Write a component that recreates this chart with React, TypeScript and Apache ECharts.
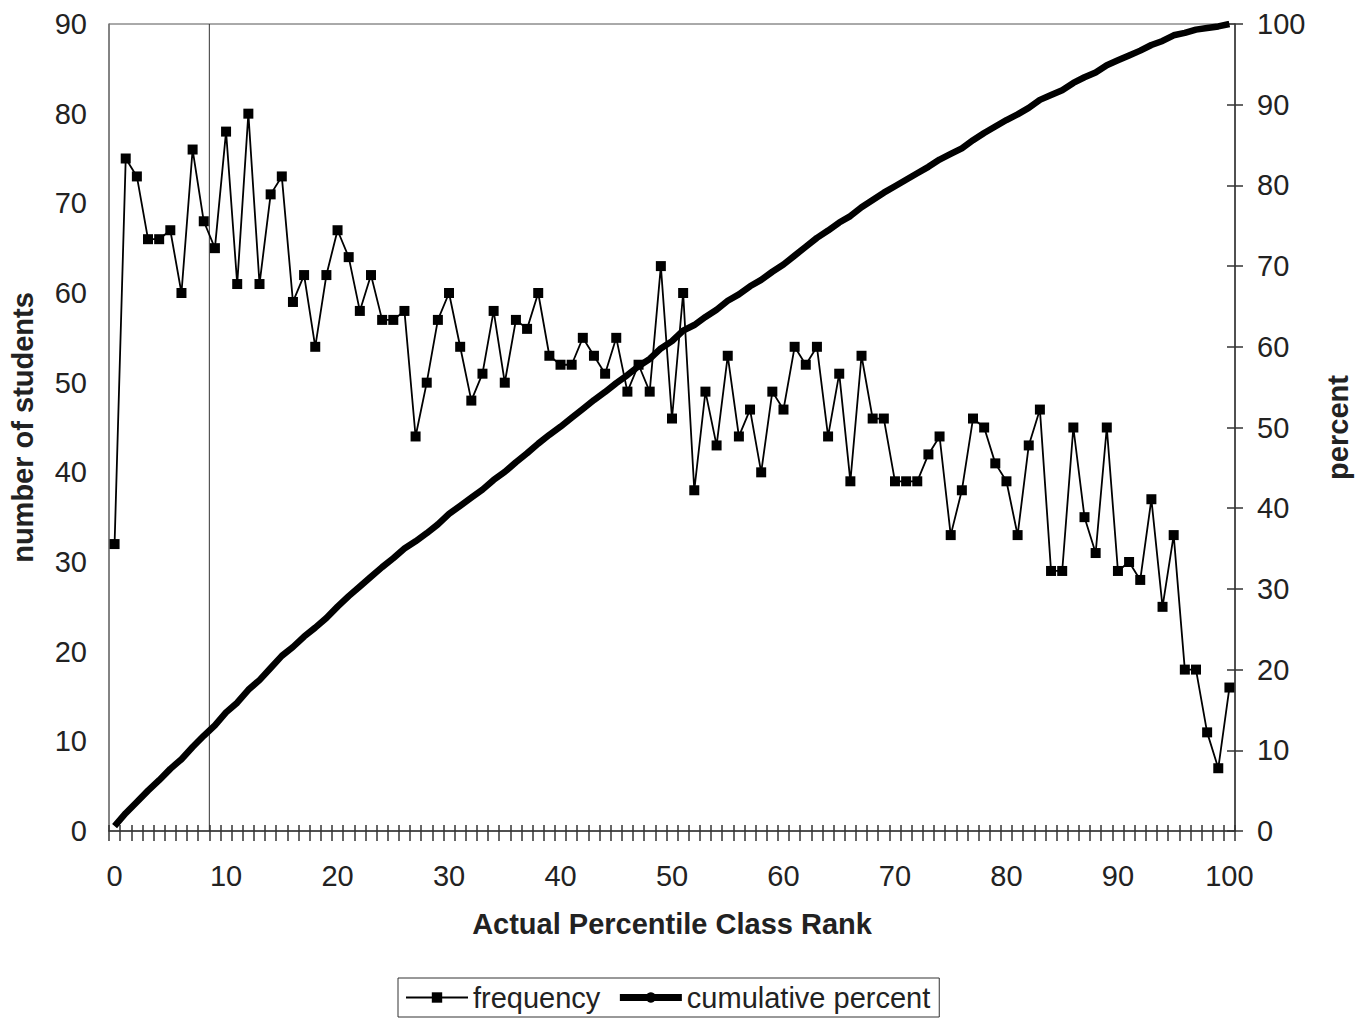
import React, { useEffect, useRef } from "react";
import * as echarts from "echarts";

const categories: string[] = Array.from({ length: 101 }, (_, i) => String(i));

const frequency: number[] = [
  32, 75, 73, 66, 66, 67, 60, 76, 68, 65,
  78, 61, 80, 61, 71, 73, 59, 62, 54, 62,
  67, 64, 58, 62, 57, 57, 58, 44, 50, 57,
  60, 54, 48, 51, 58, 50, 57, 56, 60, 53,
  52, 52, 55, 53, 51, 55, 49, 52, 49, 63,
  46, 60, 38, 49, 43, 53, 44, 47, 40, 49,
  47, 54, 52, 54, 44, 51, 39, 53, 46, 46,
  39, 39, 39, 42, 44, 33, 38, 46, 45, 41,
  39, 33, 43, 47, 29, 29, 45, 35, 31, 45,
  29, 30, 28, 37, 25, 33, 18, 18, 11, 7,
  16,
];

const cumulativePercent: number[] = [
  0.6, 2.2, 3.6, 5.0, 6.3, 7.7, 8.9, 10.4, 11.8, 13.1,
  14.7, 15.9, 17.5, 18.7, 20.2, 21.7, 22.8, 24.1, 25.2, 26.4,
  27.8, 29.1, 30.3, 31.5, 32.7, 33.8, 35.0, 35.9, 36.9, 38.0,
  39.3, 40.3, 41.3, 42.3, 43.5, 44.5, 45.7, 46.8, 48.0, 49.1,
  50.1, 51.2, 52.3, 53.4, 54.4, 55.5, 56.5, 57.6, 58.5, 59.8,
  60.7, 62.0, 62.7, 63.7, 64.6, 65.7, 66.5, 67.5, 68.3, 69.3,
  70.2, 71.3, 72.4, 73.5, 74.4, 75.4, 76.2, 77.3, 78.2, 79.1,
  79.9, 80.7, 81.5, 82.3, 83.2, 83.9, 84.6, 85.6, 86.5, 87.3,
  88.1, 88.8, 89.6, 90.6, 91.2, 91.8, 92.7, 93.4, 94.0, 94.9,
  95.5, 96.1, 96.7, 97.4, 97.9, 98.6, 98.9, 99.3, 99.5, 99.7,
  100.0,
];

const referenceLineX = 8.5;
const referenceLineY: number[] = [0, 90];

const leftTicks = { min: 0, max: 90, interval: 10 };
const rightTicks = { min: 0, max: 100, interval: 10 };

const FONT = "'Liberation Sans', Arial, sans-serif";
const TXT = "#222";

export default function App() {
  const ref = useRef<HTMLDivElement>(null);
  useEffect(() => {
    document.body.style.margin = "0";
    const chart = echarts.init(ref.current!, undefined, { renderer: "svg" });
    chart.setOption({
      animation: false,
      backgroundColor: "#fff",
      textStyle: { fontFamily: FONT },
      grid: {
        left: 107, right: 127, top: 24, bottom: 190,
        show: true, borderColor: "#555", borderWidth: 1,
      },
      legend: {
        left: 398, top: 978,
        padding: [5, 9, 5, 7],
        itemGap: 16, itemWidth: 62, itemHeight: 13,
        borderColor: "#333", borderWidth: 1,
        textStyle: { fontSize: 29, color: TXT, fontFamily: FONT },
        data: [
          { name: "frequency", lineStyle: { width: 2, color: "#000" }, itemStyle: { color: "#000" } },
          { name: "cumulative percent", lineStyle: { width: 7, color: "#000" }, itemStyle: { color: "#000" } },
        ],
      },
      xAxis: [
        {
          type: "category", data: categories, boundaryGap: true, gridIndex: 0, position: "bottom",
          axisLine: { show: true, onZero: false, lineStyle: { color: "#333", width: 1.5 } },
          axisTick: { show: true, interval: 0, length: 10, lineStyle: { color: "#333", width: 1.5 } },
          axisLabel: { interval: 9, margin: 30, fontSize: 29, color: TXT, fontFamily: FONT },
          splitLine: { show: false },
          name: "Actual Percentile Class Rank", nameLocation: "middle", nameGap: 78,
          nameTextStyle: { fontSize: 29, fontWeight: "bold", color: TXT, fontFamily: FONT },
        },
        {
          type: "category", data: categories, boundaryGap: true, gridIndex: 0, position: "bottom",
          axisLine: { show: false, onZero: false },
          axisTick: { show: true, inside: true, interval: 0, length: 6, lineStyle: { color: "#333", width: 1.5 } },
          axisLabel: { show: false },
          splitLine: { show: false },
        },
        { type: "value", min: -0.5, max: 100.5, show: false, gridIndex: 0, axisLine: { onZero: false } },
      ],
      yAxis: [
        {
          type: "value", position: "left", ...leftTicks,
          axisLine: { show: true, onZero: false, lineStyle: { color: "#777", width: 1.5 } },
          axisTick: { show: false },
          axisLabel: { margin: 22, fontSize: 29, color: TXT, fontFamily: FONT },
          splitLine: { show: false },
          name: "number of students", nameLocation: "middle", nameGap: 72, nameRotate: 90,
          nameTextStyle: { fontSize: 29, fontWeight: "bold", color: TXT, fontFamily: FONT },
        },
        {
          type: "value", position: "right", ...rightTicks,
          axisLine: { show: true, onZero: false, lineStyle: { color: "#333", width: 1.5 } },
          axisTick: { show: true, length: 8, lineStyle: { color: "#333", width: 1.5 } },
          axisLabel: { margin: 22, fontSize: 29, color: TXT, fontFamily: FONT },
          splitLine: { show: false },
          name: "percent", nameLocation: "middle", nameGap: 88, nameRotate: 90,
          nameTextStyle: { fontSize: 29, fontWeight: "bold", color: TXT, fontFamily: FONT },
        },
        {
          type: "value", position: "right", ...rightTicks,
          axisLine: { show: false, onZero: false },
          axisTick: { show: true, inside: true, length: 8, lineStyle: { color: "#333", width: 1.5 } },
          axisLabel: { show: false },
          splitLine: { show: false },
        },
      ],
      series: [
        {
          name: "reference", type: "line", xAxisIndex: 2, yAxisIndex: 0,
          data: referenceLineY.map((y) => [referenceLineX, y]),
          symbol: "none", silent: true,
          lineStyle: { color: "#333", width: 1 },
        },
        {
          name: "frequency", type: "line", xAxisIndex: 0, yAxisIndex: 0,
          data: frequency,
          symbol: "rect", symbolSize: 10, showAllSymbol: true,
          itemStyle: { color: "#000" },
          lineStyle: { color: "#000", width: 1.8 },
        },
        {
          name: "cumulative percent", type: "line", xAxisIndex: 0, yAxisIndex: 1,
          data: cumulativePercent,
          symbol: "none", z: 3,
          itemStyle: { color: "#000" },
          lineStyle: { color: "#000", width: 6.5 },
        },
      ],
    });
    return () => chart.dispose();
  }, []);
  return <div ref={ref} style={{ width: 1362, height: 1021 }} />;
}
